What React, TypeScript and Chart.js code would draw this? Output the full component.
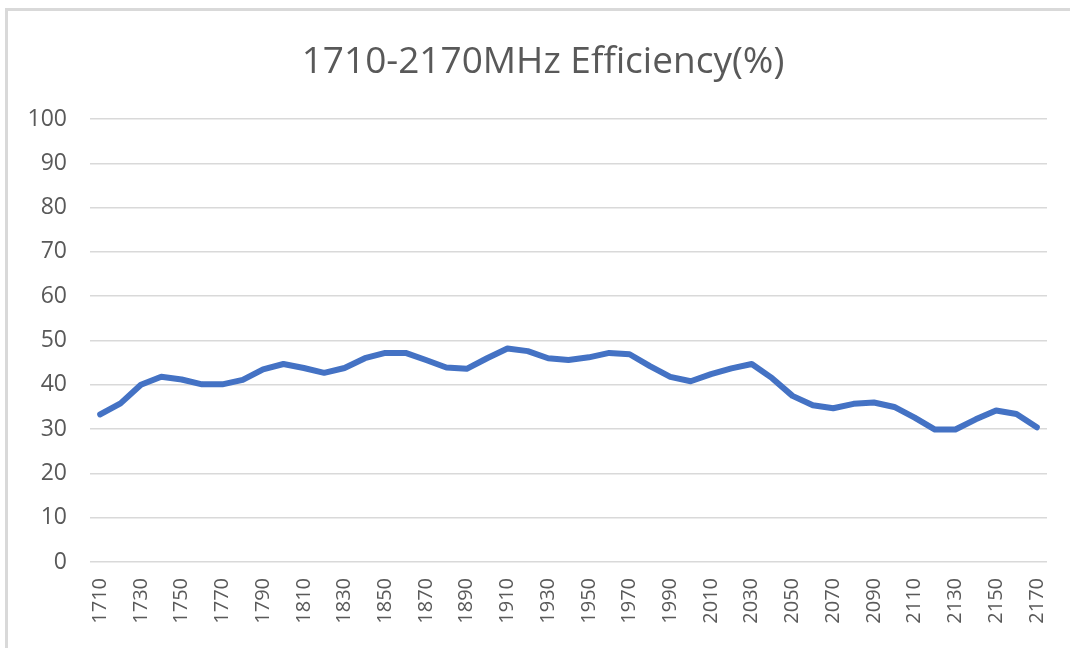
import React, { useEffect, useRef } from "react";
import { Chart, registerables } from "chart.js";

Chart.register(...registerables);

const frequencies: number[] = [
  1710, 1720, 1730, 1740, 1750, 1760, 1770, 1780, 1790, 1800,
  1810, 1820, 1830, 1840, 1850, 1860, 1870, 1880, 1890, 1900,
  1910, 1920, 1930, 1940, 1950, 1960, 1970, 1980, 1990, 2000,
  2010, 2020, 2030, 2040, 2050, 2060, 2070, 2080, 2090, 2100,
  2110, 2120, 2130, 2140, 2150, 2160, 2170,
];

const efficiency: number[] = [
  33.3, 35.8, 40.0, 41.8, 41.2, 40.1, 40.1, 41.1, 43.5, 44.7,
  43.8, 42.7, 43.8, 46.0, 47.2, 47.2, 45.6, 43.9, 43.6, 46.0,
  48.2, 47.6, 46.0, 45.6, 46.2, 47.2, 46.9, 44.2, 41.8, 40.8,
  42.4, 43.7, 44.7, 41.5, 37.5, 35.4, 34.7, 35.7, 36.0, 35.0,
  32.6, 29.9, 29.9, 32.2, 34.2, 33.4, 30.4,
];

const yTicks: number[] = [0, 10, 20, 30, 40, 50, 60, 70, 80, 90, 100];

const titleText = "1710-2170MHz Efficiency(%)";

const FONT = "'Open Sans', 'Noto Sans', sans-serif";

const titlePlugin = {
  id: "customTitle",
  afterDraw(chart: any) {
    const ctx = chart.ctx;
    ctx.save();
    ctx.font = `normal 37px ${FONT}`;
    ctx.fillStyle = "#595959";
    ctx.textAlign = "center";
    ctx.textBaseline = "middle";
    ctx.fillText(titleText, 543, 62);
    ctx.restore();
  },
};

export default function App() {
  const canvasRef = useRef<HTMLCanvasElement | null>(null);

  useEffect(() => {
    if (!canvasRef.current) return;
    const chart = new Chart(canvasRef.current, {
      type: "line",
      data: {
        labels: frequencies.map(String),
        datasets: [
          {
            label: "Efficiency",
            data: efficiency,
            borderColor: "#4472C4",
            backgroundColor: "#4472C4",
            borderWidth: 6,
            pointRadius: 0,
            pointHoverRadius: 0,
            tension: 0,
            borderCapStyle: "round",
            borderJoinStyle: "round",
            fill: false,
          },
        ],
      },
      plugins: [titlePlugin],
      options: {
        animation: false,
        responsive: false,
        maintainAspectRatio: false,
        layout: { padding: { top: 119, right: 23, bottom: 0, left: 0 } },
        plugins: {
          legend: { display: false },
          tooltip: { enabled: false },
          title: { display: false },
        },
        scales: {
          x: {
            type: "category",
            offset: true,
            grid: { display: false, drawTicks: false },
            border: { display: false },
            ticks: {
              autoSkip: false,
              maxRotation: 90,
              minRotation: 90,
              padding: 16,
              color: "#595959",
              font: { family: FONT, size: 20 },
              callback: (_v: any, i: number) => (i % 2 === 0 ? String(frequencies[i]) : ""),
            },
            afterFit: (scale: any) => {
              scale.height = 86;
              scale.paddingLeft = 0;
              scale.paddingRight = 0;
            },
          },
          y: {
            min: 0,
            max: 100,
            afterBuildTicks: (scale: any) => {
              scale.ticks = yTicks.map((v) => ({ value: v }));
            },
            grid: { color: "#d9d9d9", lineWidth: 1.5, drawTicks: false },
            border: { display: false },
            ticks: {
              padding: 23,
              color: "#595959",
              font: { family: FONT, size: 23 },
            },
            afterFit: (scale: any) => {
              scale.width = 90;
              scale.paddingTop = 0;
              scale.paddingBottom = 0;
            },
          },
        },
      },
    });
    return () => chart.destroy();
  }, []);

  return (
    <div style={{ position: "absolute", left: 0, top: 0, width: 1070, height: 648, background: "#fff" }}>
      <canvas ref={canvasRef} width={1070} height={648} style={{ position: "absolute", left: 0, top: 0 }} />
      <div
        style={{
          position: "absolute",
          left: 5,
          top: 8,
          width: 1065,
          height: 640,
          borderLeft: "3px solid #d9d9d9",
          borderTop: "3px solid #d9d9d9",
          boxSizing: "border-box",
          pointerEvents: "none",
        }}
      />
    </div>
  );
}
